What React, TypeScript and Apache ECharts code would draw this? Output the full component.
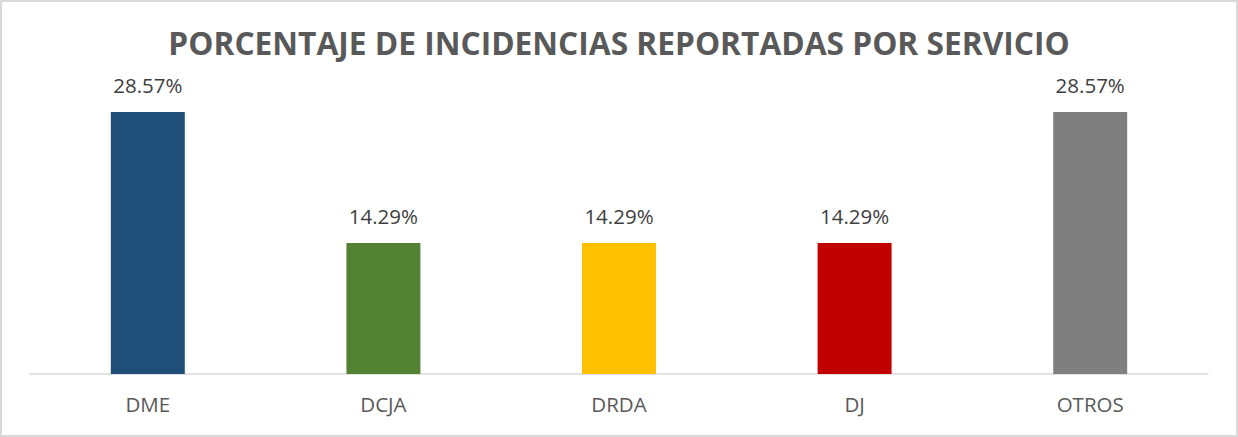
import React, { useEffect, useRef } from "react";
import * as echarts from "echarts";

const categories = ["DME", "DCJA", "DRDA", "DJ", "OTROS"];
const values = [28.57, 14.29, 14.29, 14.29, 28.57];
const colors = ["#1F4E79", "#548235", "#FFC000", "#C00000", "#7F7F7F"];
const title = "PORCENTAJE DE INCIDENCIAS REPORTADAS POR SERVICIO";

export default function App() {
  const ref = useRef<HTMLDivElement>(null);
  useEffect(() => {
    document.body.style.margin = "0";
    const chart = echarts.init(ref.current!, undefined, { renderer: "svg" });
    chart.setOption({
      animation: false,
      backgroundColor: "#ffffff",
      title: {
        text: title,
        left: "center",
        top: 19,
        textStyle: {
          fontFamily: "Open Sans",
          fontWeight: "bold",
          fontSize: 31.7,
          color: "#595959",
        },
      },
      grid: { left: 28, right: 28, top: 97, bottom: 61, containLabel: false },
      xAxis: {
        type: "category",
        data: categories,
        axisLine: { lineStyle: { color: "#D9D9D9", width: 1.5 } },
        axisTick: { show: false },
        axisLabel: {
          fontFamily: "Open Sans",
          fontSize: 20.5,
          color: "#595959",
          margin: 19,
        },
      },
      yAxis: {
        type: "value",
        min: 0,
        max: 30,
        show: false,
        splitLine: { show: false },
      },
      series: [
        {
          type: "bar",
          barWidth: "31.4%",
          data: values.map((v, i) => ({ value: v, itemStyle: { color: colors[i] } })),
          label: {
            show: true,
            position: "top",
            distance: 17,
            formatter: (p: any) => p.value.toFixed(2) + "%",
            fontFamily: "Open Sans",
            fontSize: 20.5,
            color: "#404040",
          },
        },
      ],
    });
    return () => chart.dispose();
  }, []);
  return (
    <div
      style={{
        width: 1238,
        height: 437,
        boxSizing: "border-box",
        border: "2px solid #D9D9D9",
        background: "#fff",
      }}
    >
      <div ref={ref} style={{ width: 1234, height: 433 }} />
    </div>
  );
}
